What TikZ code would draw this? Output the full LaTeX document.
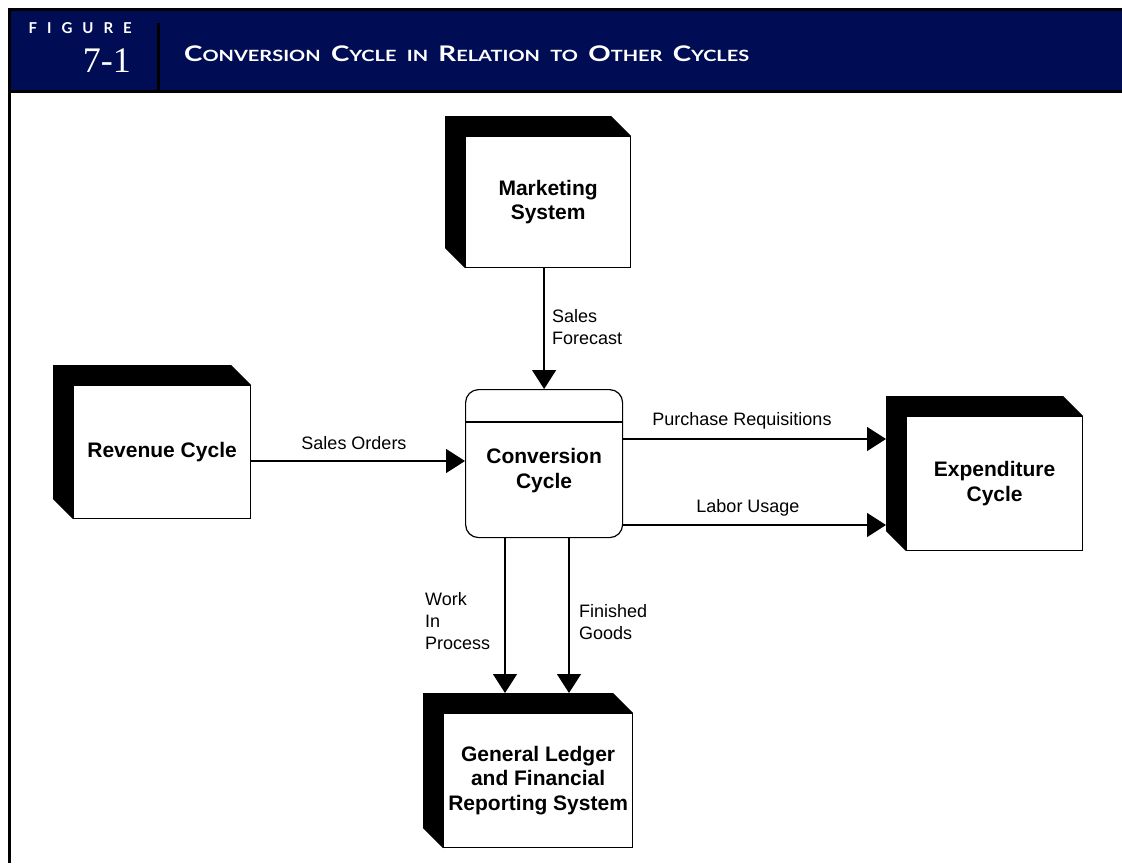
\documentclass[tikz,border=0pt]{standalone}
\usepackage{fontspec}
\usepackage{graphicx}
\setmainfont{Liberation Sans}
\newfontfamily\hdrfont{Lato}
\newfontfamily\numfont{Liberation Serif}
\usetikzlibrary{arrows.meta,calc,backgrounds}
\definecolor{navy}{RGB}{0,13,84}
\newcommand\SCw[2]{{\fontsize{21.5}{22}\selectfont #1}{\fontsize{15.5}{16}\selectfont #2}}
\newcommand\SCgap{\hspace{8pt}}
\newcommand\blockshade[1]{\fill[black] ($(#1.north west)+(-20,-20)$) -- ($(#1.north east)+(-20,-20)$) -- (#1.north east) -- (#1.south west) -- ($(#1.south west)+(-20,-20)$) -- cycle;}
\begin{document}
\begin{tikzpicture}[x=1pt,y=-1pt,
  face/.style={draw=black, line width=1.2pt, fill=white, font=\fontsize{21}{24.5}\selectfont\bfseries, align=center, inner sep=0pt, anchor=north west},
  flow/.style={line width=1.3pt, -{Triangle[width=24pt,length=19pt]}},
  lbl/.style={font=\fontsize{18}{22}\selectfont, align=left, inner sep=0pt},
  hdr/.style={text=white, inner sep=0pt}]
\useasboundingbox (0,0) rectangle (1122,863);
% header and frame
\fill[navy] (8,8) rectangle (1122,92);
\fill[black] (8,8) rectangle (1122,10.5);
\fill[black] (8,90) rectangle (1122,92.5);
\fill[black] (8,8) rectangle (10.5,863);
\fill[black] (157,23) rectangle (160,90);
\node[hdr, anchor=base east, font=\hdrfont\bfseries\fontsize{15}{15}\selectfont] (fig) at (132,33) {F\hspace{10pt}I\hspace{10pt}G\hspace{10pt}U\hspace{10pt}R\hspace{10pt}E};
\node[hdr, anchor=base east, font=\numfont\fontsize{36}{36}\selectfont] (num) at (131,72) {7-1};
\node[hdr, anchor=base west, font=\hdrfont\bfseries] (title) at (184,61) {\resizebox{565pt}{\height}{\SCw{C}{ONVERSION}\SCgap\SCw{C}{YCLE}\SCgap\SCw{}{IN}\SCgap\SCw{R}{ELATION}\SCgap\SCw{}{TO}\SCgap\SCw{O}{THER}\SCgap\SCw{C}{YCLES}}};
% boxes
\node[face, minimum width=165pt, minimum height=131pt] (mkt) at (465,136) {Marketing\\System};
\node[face, minimum width=177pt, minimum height=133pt] (rev) at (73,385) {Revenue Cycle};
\node[face, minimum width=176pt, minimum height=134pt] (exp) at (906,416) {Expenditure\\Cycle};
\node[face, minimum width=189pt, minimum height=134pt] (gl) at (443,713) {General Ledger\\and Financial\\Reporting System};
\node[face, rounded corners=13pt, minimum width=157pt, minimum height=148pt] (conv) at (465,389) {};
\draw[line width=1.2pt] ($(conv.north west)+(0,33)$) -- ($(conv.north east)+(0,33)$);
\node[font=\fontsize{21}{24.5}\selectfont\bfseries, align=center, inner sep=0pt] (convtext) at ($(conv.center)+(0,7)$) {Conversion\\Cycle};
\begin{scope}[on background layer]
  \blockshade{mkt}
  \blockshade{rev}
  \blockshade{exp}
  \blockshade{gl}
\end{scope}
% connector ends
\coordinate (expback) at ($(exp.west)+(-20,0)$);
\coordinate (glback) at ($(gl.north)+(0,-20)$);
\coordinate (ySO) at (0,461);
\coordinate (yPR) at (0,439);
\coordinate (yLU) at (0,525);
\coordinate (xWIP) at (505,0);
\coordinate (xFG) at (569,0);
% connectors
\draw[flow] (conv.north |- mkt.south) -- (conv.north);
\draw[flow] (rev.east |- ySO) -- (conv.west |- ySO);
\draw[flow] (conv.east |- yPR) -- (expback |- yPR);
\draw[flow] (conv.east |- yLU) -- (expback |- yLU);
\draw[flow] (xWIP |- conv.south) -- (xWIP |- glback);
\draw[flow] (xFG |- conv.south) -- (xFG |- glback);
% labels
\node[lbl, anchor=west] (lSF) at (552,327) {Sales\\Forecast};
\node[lbl] (lSO) at (354,443) {Sales Orders};
\node[lbl] (lPR) at (742,421) {Purchase Requisitions};
\node[lbl] (lLU) at (748,508) {Labor Usage};
\node[lbl, anchor=west] (lWIP) at (425,621) {Work\\In\\Process};
\node[lbl, anchor=west] (lFG) at (579,622) {Finished\\Goods};
\end{tikzpicture}
\end{document}
